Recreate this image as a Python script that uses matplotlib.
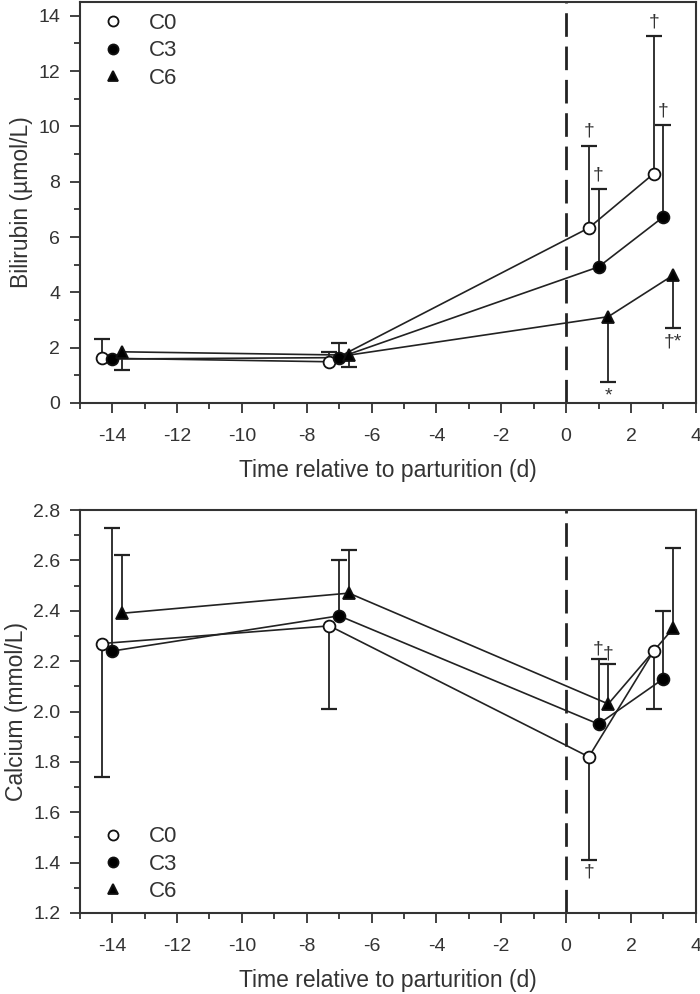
import numpy as np
import matplotlib
matplotlib.use('Agg')
import matplotlib.pyplot as plt
from matplotlib.ticker import MultipleLocator

plt.rcParams['font.family'] = ['Liberation Sans', 'DejaVu Sans']
plt.rcParams['axes.unicode_minus'] = False

# days relative to parturition (groups offset slightly on x)
days_c0 = [-14.3, -7.3, 0.7, 2.7]
days_c3 = [-14.0, -7.0, 1.0, 3.0]
days_c6 = [-13.7, -6.7, 1.3, 3.3]

# Bilirubin (umol/L) means and error-bar tips (one-sided)
bili_c0 = [1.62, 1.49, 6.33, 8.29]
bili_c0_tip = [2.33, 1.85, 9.31, 13.28]
bili_c3 = [1.59, 1.64, 4.92, 6.73]
bili_c3_tip = [np.nan, 2.18, 7.73, 10.04]
bili_c6 = [1.85, 1.73, 3.12, 4.62]
bili_c6_tip = [1.19, 1.30, 0.75, 2.70]

# Calcium (mmol/L)
ca_c0 = [2.27, 2.34, 1.82, 2.24]
ca_c0_tip = [1.74, 2.01, 1.41, 2.01]
ca_c3 = [2.24, 2.38, 1.95, 2.13]
ca_c3_tip = [2.73, 2.60, 2.21, 2.40]
ca_c6 = [2.39, 2.47, 2.03, 2.33]
ca_c6_tip = [2.62, 2.64, 2.19, 2.65]

group_names = ['C0', 'C3', 'C6']
styles = [dict(marker='o', mfc='white'), dict(marker='o', mfc='black'),
          dict(marker='^', mfc='black')]


def draw_panel(ax, days, means, tips, ylim, ymajor, yminor, ylabel, legend_loc):
    for d, m, t, name, st in zip(days, means, tips, group_names, styles):
        d = np.array(d); m = np.array(m); t = np.array(t)
        ok = ~np.isnan(t)
        ax.vlines(d[ok], m[ok], t[ok], color='#222222', lw=1.3, zorder=2)
        ax.plot(d[ok], t[ok], ls='none', marker='_', ms=11, mew=1.6,
                color='#222222', zorder=2)
        ax.plot(d, m, color='#222222', lw=1.2, zorder=3)
        ax.plot(d, m, ls='none', marker=st['marker'], mfc=st['mfc'], mec='#111111',
                mew=1.3, ms=8.5 if st['marker'] == 'o' else 8, zorder=4, label=name)
    ax.axvline(0, color='#222222', lw=2.0, dashes=(8.5, 3.5), zorder=1)
    ax.set_xlim(-15, 4)
    ax.set_ylim(*ylim)
    ax.xaxis.set_major_locator(MultipleLocator(2))
    ax.xaxis.set_minor_locator(MultipleLocator(1))
    ax.yaxis.set_major_locator(MultipleLocator(ymajor))
    ax.yaxis.set_minor_locator(MultipleLocator(yminor))
    ax.tick_params(which='both', direction='out', top=False, right=False,
                   labelsize=14, color='#333333', width=1.3, labelcolor='#333333')
    ax.tick_params(axis='x', which='major', length=7, pad=11)
    ax.tick_params(axis='y', which='major', length=7, pad=7)
    ax.tick_params(which='minor', length=4)
    for sp in ax.spines.values():
        sp.set_linewidth(1.5)
        sp.set_color('#333333')
    ax.set_xlabel('Time relative to parturition (d)', fontsize=16.5, labelpad=10,
                  color='#333333')
    ax.set_ylabel(ylabel, fontsize=16.5, labelpad=4, color='#333333')
    ax.legend(loc=legend_loc, frameon=False, fontsize=16, handletextpad=0.6,
              labelspacing=0.28, borderaxespad=0.1, handlelength=2.0,
              markerscale=0.85, labelcolor='#333333')
    return ax


fig = plt.figure(figsize=(7, 9.94), dpi=100)
ax1 = fig.add_axes([0.114, 0.5946, 0.88, 0.4034])
ax2 = fig.add_axes([0.114, 0.0815, 0.88, 0.4054])

draw_panel(ax1, [days_c0, days_c3, days_c6], [bili_c0, bili_c3, bili_c6],
           [bili_c0_tip, bili_c3_tip, bili_c6_tip], (0, 14.5), 2, 1,
           'Bilirubin (µmol/L)', 'upper left')
ax1.yaxis.set_major_formatter(plt.FormatStrFormatter('%d'))

draw_panel(ax2, [days_c0, days_c3, days_c6], [ca_c0, ca_c3, ca_c6],
           [ca_c0_tip, ca_c3_tip, ca_c6_tip], (1.2, 2.8), 0.2, 0.1,
           'Calcium (mmol/L)', 'lower left')
ax2.yaxis.set_major_formatter(plt.FormatStrFormatter('%.1f'))

# significance marks
mk = dict(ha='center', fontsize=14, color='#333333')
ax1.text(days_c0[2], bili_c0_tip[2] + 0.2, '†', va='bottom', **mk)
ax1.text(days_c3[2], bili_c3_tip[2] + 0.2, '†', va='bottom', **mk)
ax1.text(days_c0[3], bili_c0_tip[3] + 0.2, '†', va='bottom', **mk)
ax1.text(days_c3[3], bili_c3_tip[3] + 0.2, '†', va='bottom', **mk)
ax1.text(days_c6[2], bili_c6_tip[2] - 0.2, '*', va='top', **mk)
ax1.text(days_c6[3], bili_c6_tip[3] - 0.2, '†*', va='top', **mk)
ax2.text(days_c3[2], ca_c3_tip[2] + 0.005, '†', va='bottom', **mk)
ax2.text(days_c6[2], ca_c6_tip[2] + 0.005, '†', va='bottom', **mk)
ax2.text(days_c0[2], ca_c0_tip[2] - 0.015, '†', va='top', **mk)

fig.savefig('out.png', dpi=100)
